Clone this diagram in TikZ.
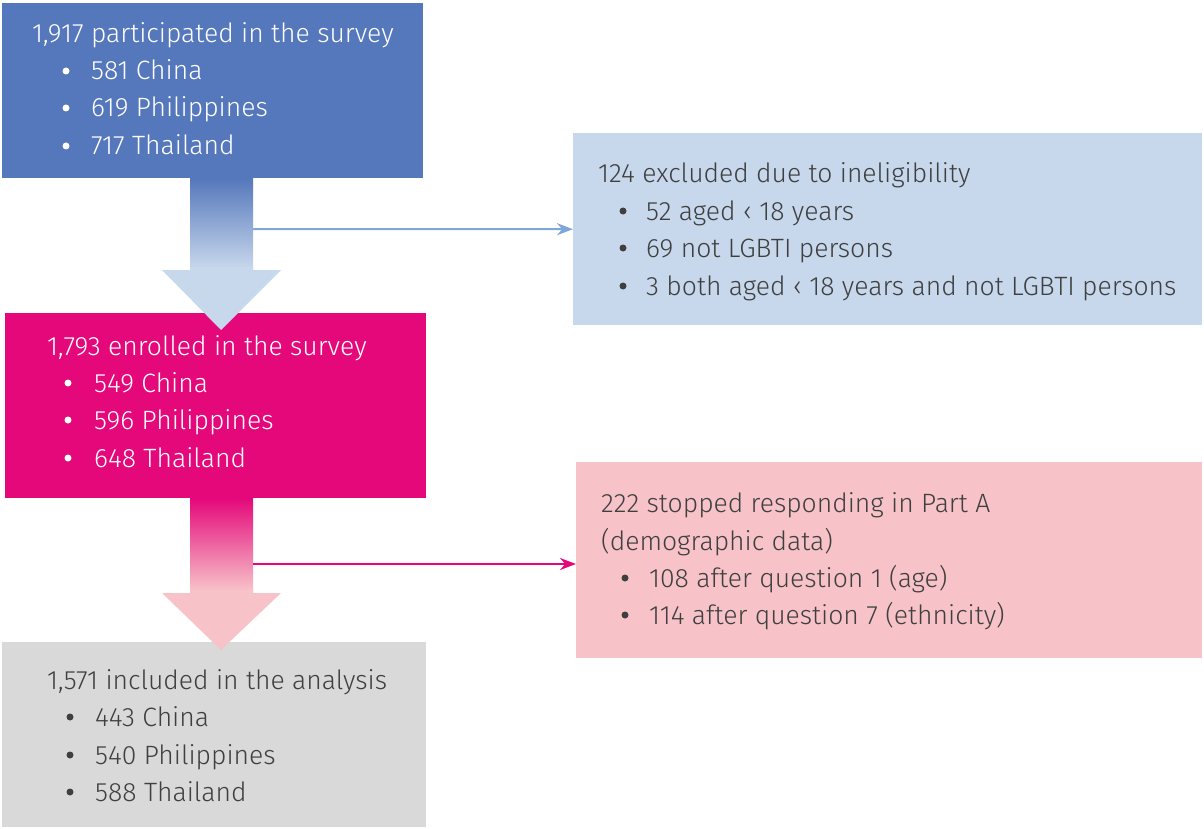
\documentclass[tikz,border=0pt]{standalone}
\usepackage{fontspec}
\setmainfont{Fira Sans Light}
\usetikzlibrary{arrows.meta}
\definecolor{partblue}{HTML}{5577BB}
\definecolor{exclblue}{HTML}{C7D7EC}
\definecolor{lineblue}{HTML}{7FA6D8}
\definecolor{enrolpink}{HTML}{E4087A}
\definecolor{droppink}{HTML}{F7C3C9}
\definecolor{anagray}{HTML}{D9D9D9}
\definecolor{txtgray}{HTML}{3F3F3F}
\tikzset{
  box/.style={inner sep=0pt, anchor=north west},
  txt/.style={anchor=base west, inner sep=0pt, font=\fontsize{26.5}{30}\selectfont}
}

\begin{document}
\begin{tikzpicture}[x=1pt,y=-1pt]
\useasboundingbox (0,0) rectangle (1204,829);
% boxes
\node[box, fill=partblue, minimum width=421pt, minimum height=175pt] (part) at (2,3) {};
\node[box, fill=exclblue, minimum width=629pt, minimum height=192pt] (excl) at (573,133) {};
\node[box, fill=enrolpink, minimum width=421pt, minimum height=185pt] (enrol) at (5,313) {};
\node[box, fill=droppink, minimum width=626pt, minimum height=196pt] (drop) at (576,462) {};
\node[box, fill=anagray, minimum width=424pt, minimum height=185pt] (ana) at (2,642) {};

% big arrows
\shade[top color=partblue, bottom color=exclblue] (190,178) rectangle (253,268);
\fill[exclblue] (190,267) -- (253,267) -- (253,270) -- (281,270) -- (221,330) -- (162,270) -- (190,270) -- cycle;
\shade[top color=enrolpink, bottom color=droppink] (190,498) rectangle (253,591);
\fill[droppink] (190,590) -- (253,590) -- (253,593) -- (281,593) -- (221,650) -- (162,593) -- (190,593) -- cycle;

% side connectors
\coordinate (split1) at (253,229);
\coordinate (split2) at (253,564);
\draw[lineblue, line width=2pt, -{Stealth[length=16pt,width=12pt]}] (split1) -- (excl.west);
\draw[enrolpink, line width=2pt, -{Stealth[length=16pt,width=12pt]}] (split2) -- (split2 -| drop.west);

% text, participated
\node[txt, white] (p0) at (32,43) {1,917 participated in the survey};
\node[txt, white] (p1) at (91,80) {581 China};
\node[txt, white] (p2) at (91,117) {619 Philippines};
\node[txt, white] (p3) at (91,155) {717 Thailand};
\fill[white] (66,71) circle (3.5) (66,108) circle (3.5) (66,146) circle (3.5);

% text, excluded
\node[txt, txtgray] (e0) at (598,183) {124 excluded due to ineligibility};
\node[txt, txtgray] (e1) at (646,220) {52 aged ‹ 18 years};
\node[txt, txtgray] (e2) at (646,257) {69 not LGBTI persons};
\node[txt, txtgray] (e3) at (646,295) {3 both aged ‹ 18 years and not LGBTI persons};
\fill[txtgray] (623,211) circle (3.5) (623,248) circle (3.5) (623,286) circle (3.5);

% text, enrolled
\node[txt, white] (n0) at (47,355) {1,793 enrolled in the survey};
\node[txt, white] (n1) at (94,392) {549 China};
\node[txt, white] (n2) at (94,429) {596 Philippines};
\node[txt, white] (n3) at (94,467) {648 Thailand};
\fill[white] (68,383) circle (3.5) (68,420) circle (3.5) (68,458) circle (3.5);

% text, stopped
\node[txt, txtgray] (d0) at (601,512) {222 stopped responding in Part A};
\node[txt, txtgray] (d1) at (601,550) {(demographic data)};
\node[txt, txtgray] (d2) at (649,587) {108 after question 1 (age)};
\node[txt, txtgray] (d3) at (649,624) {114 after question 7 (ethnicity)};
\fill[txtgray] (625,578) circle (3.5) (625,615) circle (3.5);

% text, analysis
\node[txt, txtgray] (a0) at (47,689) {1,571 included in the analysis};
\node[txt, txtgray] (a1) at (95,726) {443 China};
\node[txt, txtgray] (a2) at (95,764) {540 Philippines};
\node[txt, txtgray] (a3) at (95,801) {588 Thailand};
\fill[txtgray] (70,717) circle (3.5) (70,755) circle (3.5) (70,792) circle (3.5);
\end{tikzpicture}
\end{document}
